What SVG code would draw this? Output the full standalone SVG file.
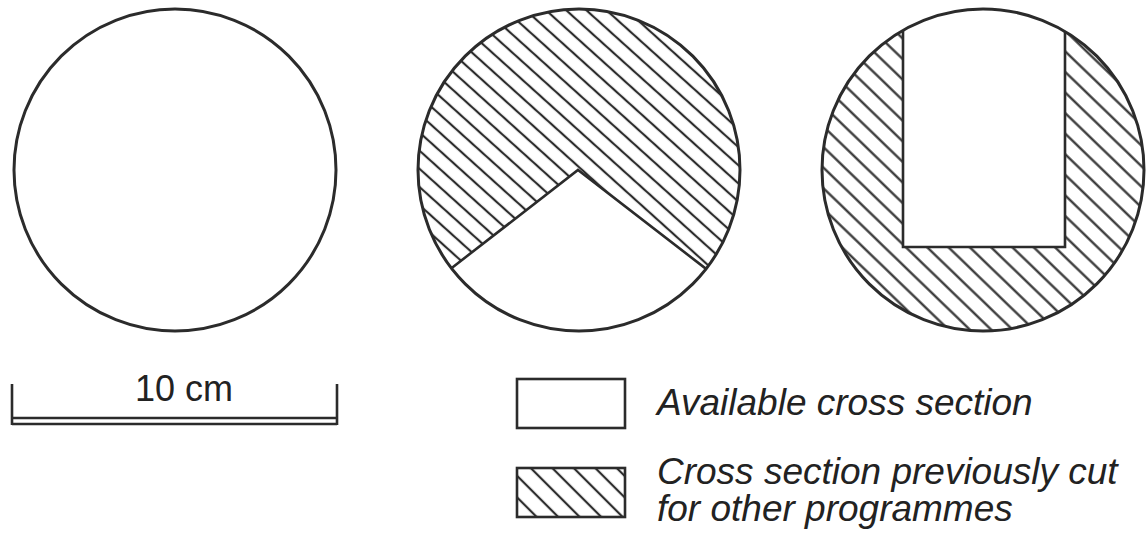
<svg xmlns="http://www.w3.org/2000/svg" width="1146" height="536" viewBox="0 0 1146 536">
<style>
.outline{fill:none;stroke:#2b2b2b;stroke-width:3}
.edge{fill:none;stroke:#2b2b2b;stroke-width:2.6;stroke-linejoin:miter}
.hl{stroke:#2b2b2b;stroke-width:2.2}
.lbl{font-family:"Liberation Sans",Arial,sans-serif;fill:#222}
.it{font-style:italic;font-size:37px}
</style>
<defs>
<pattern id="hatch2" patternUnits="userSpaceOnUse" width="20" height="13.5" patternTransform="rotate(42)">
<line class="hl" x1="-1" y1="6.75" x2="21" y2="6.75"/>
</pattern>
<pattern id="hatch3" patternUnits="userSpaceOnUse" width="20" height="14.8" patternTransform="rotate(44)">
<line class="hl" x1="-1" y1="7.4" x2="21" y2="7.4"/>
</pattern>
<pattern id="hatchL" patternUnits="userSpaceOnUse" width="20" height="15.2" patternTransform="translate(520,468) rotate(45)">
<line class="hl" x1="-1" y1="7.6" x2="21" y2="7.6"/>
</pattern>
<clipPath id="clip2">
<path d="M451.4,268.2 A161,161 0 1 1 706.1,268.9 L578,170 Z"/>
</clipPath>
<mask id="mask3" maskUnits="userSpaceOnUse" x="800" y="0" width="346" height="340">
<circle cx="983" cy="170" r="161" fill="#fff"/>
<rect x="903" y="0" width="162" height="247" fill="#000"/>
</mask>
</defs>

<g id="circle-full">
<circle class="outline" cx="175" cy="170" r="161"/>
</g>

<g id="circle-wedge">
<rect x="410" y="0" width="340" height="340" fill="url(#hatch2)" clip-path="url(#clip2)"/>
<path class="edge" d="M451.4,268.2 L578,170 L706.1,268.9"/>
<circle class="outline" cx="579" cy="170" r="161"/>
</g>

<g id="circle-rect">
<rect x="815" y="0" width="331" height="340" fill="url(#hatch3)" mask="url(#mask3)"/>
<path class="edge" d="M903,30.3 L903,247 L1065,247 L1065,31.4"/>
<circle class="outline" cx="983" cy="170" r="161"/>
</g>

<g id="scale-bar">
<path class="edge" d="M12,384 L12,425 M337,384 L337,425 M12,418 L337,418 M12,424 L337,424"/>
<text class="lbl" x="135" y="401" font-size="36">10 cm</text>
</g>

<g id="legend-available">
<rect class="edge" x="517" y="379" width="108" height="49" fill="#fff"/>
<text class="lbl it" x="657" y="415">Available cross section</text>
</g>

<g id="legend-cut">
<rect x="517" y="468" width="108" height="49" fill="url(#hatchL)"/>
<rect class="edge" x="517" y="468" width="108" height="49"/>
<text class="lbl it" x="657" y="484">Cross section previously cut</text>
<text class="lbl it" x="657" y="521">for other programmes</text>
</g>
</svg>
